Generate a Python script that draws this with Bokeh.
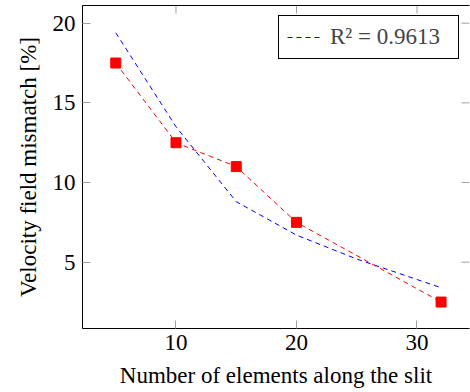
import math
from bokeh.plotting import figure
from bokeh.models import Range1d, LinearAxis, FixedTicker, Legend, LegendItem
from bokeh.embed import file_html
from bokeh.resources import INLINE

# Data
elements = [5, 10, 15, 20, 32]
mismatch = [17.5, 12.5, 11.0, 7.5, 2.5]
fit_x = [5, 10, 15, 20, 25, 32]
fit_y = [19.4, 13.5, 8.8, 6.7, 5.2, 3.4]
x_ticks = [10, 20, 30]
y_ticks = [5, 10, 15, 20]
legend_label = "R² = 0.9613"
x_title = "Number of elements along the slit"
y_title = "Velocity field mismatch [%]"

FONT = "Liberation Serif"
FS = "23px"
TICK_COLOR = "#a0a0a0"
X_MIN, X_MAX = 2.24, 34.36
Y_MIN, Y_MAX = 0.84, 21.11

p = figure(width=470, height=392,
           x_range=Range1d(X_MIN, X_MAX), y_range=Range1d(Y_MIN, Y_MAX),
           output_backend="svg", toolbar_location=None,
           min_border_left=82, min_border_right=1,
           min_border_top=5, min_border_bottom=64)
p.outline_line_color = None
p.xgrid.visible = False
p.ygrid.visible = False
p.background_fill_color = "white"
p.border_fill_color = "white"

fit_r = p.line(fit_x, fit_y, line_color="#0000ff", line_width=1, line_dash="5 4")
p.line(elements, mismatch, line_color="#ff0000", line_width=1, line_dash="5 4")
p.scatter(elements, mismatch, marker="square", size=10,
          fill_color="#ff0000", line_color="#ff0000")

# mirrored tick marks on the top and right edges (inward)
p.ray(x=x_ticks, y=[Y_MAX] * len(x_ticks), length=8, length_units="screen",
      angle=-math.pi / 2, line_color=TICK_COLOR, line_width=1)
p.ray(x=[X_MAX] * len(y_ticks), y=y_ticks, length=8, length_units="screen",
      angle=math.pi, line_color=TICK_COLOR, line_width=1)

def style_axis(ax, ticks):
    ax.ticker = FixedTicker(ticks=ticks)
    ax.axis_line_color = "black"
    ax.axis_line_width = 1
    ax.major_tick_in = 8
    ax.major_tick_out = 0
    ax.major_tick_line_color = TICK_COLOR
    ax.major_tick_line_width = 1
    ax.minor_tick_line_color = None
    ax.major_label_text_font = FONT
    ax.major_label_text_font_size = FS
    ax.major_label_text_color = "black"
    ax.axis_label_text_font = FONT
    ax.axis_label_text_font_size = FS
    ax.axis_label_text_font_style = "normal"
    ax.axis_label_text_color = "black"

xax = p.xaxis[0]
yax = p.yaxis[0]
style_axis(xax, x_ticks)
style_axis(yax, y_ticks)
xax.major_label_standoff = 6
yax.major_label_standoff = 7
xax.axis_label = x_title
yax.axis_label = y_title
xax.axis_label_standoff = 10
yax.axis_label_standoff = 9

# top border line (no ticks / labels of its own)
top_ax = LinearAxis(ticker=FixedTicker(ticks=[]))
top_ax.axis_line_color = "black"
top_ax.axis_line_width = 1
top_ax.major_tick_line_color = None
top_ax.minor_tick_line_color = None
top_ax.major_tick_out = 0
top_ax.major_label_standoff = 0
p.add_layout(top_ax, "above")

legend = Legend(items=[LegendItem(label=legend_label, renderers=[fit_r])],
                location="top_right", margin=10, padding=8, spacing=0,
                glyph_width=33, glyph_height=26, label_height=26,
                label_width=120, label_standoff=10,
                label_text_font=FONT, label_text_font_size=FS,
                border_line_color="black", border_line_width=1, border_line_alpha=1,
                background_fill_color="white", background_fill_alpha=1)
p.add_layout(legend)

open("out.html", "w").write(file_html(p, INLINE))
